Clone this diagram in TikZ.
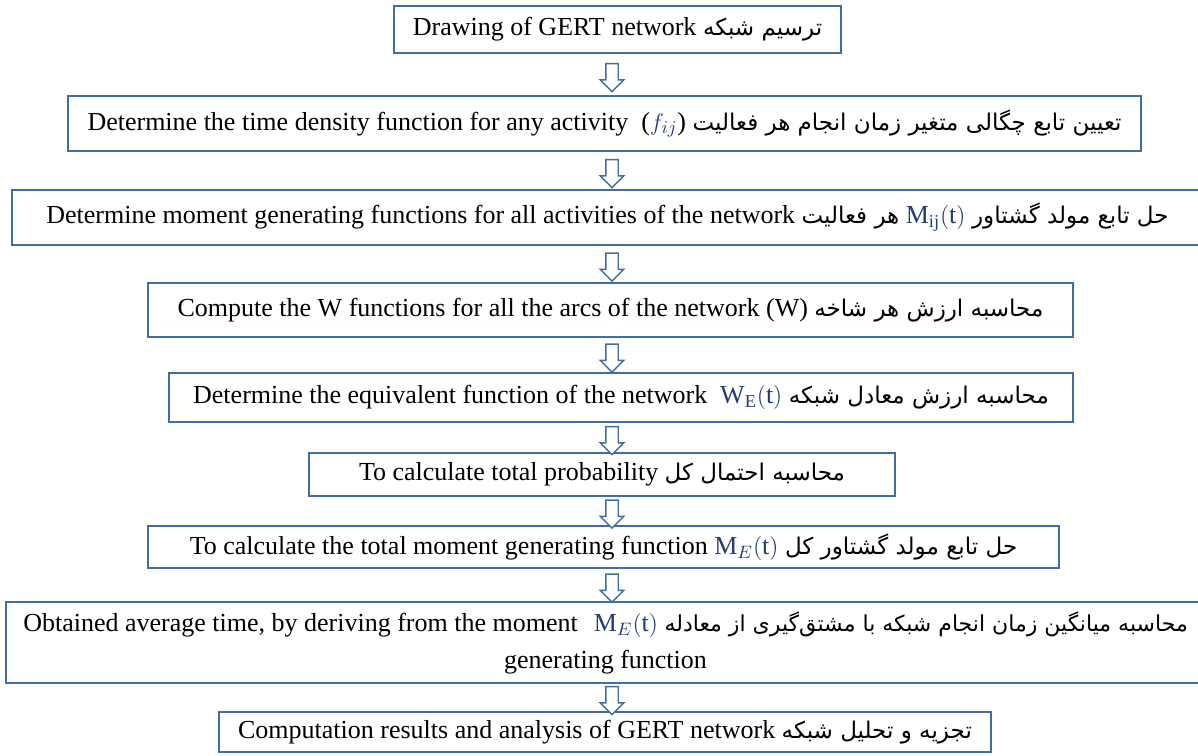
\documentclass[tikz,border=0pt]{standalone}
\usepackage{fontspec}
\setmainfont{Liberation Serif}
\newfontfamily\fa[Script=Arabic]{DejaVu Sans}
\TeXXeTstate=1
\usetikzlibrary{shapes.arrows}
\definecolor{boxblue}{RGB}{65,110,160}
\definecolor{mathblue}{RGB}{35,60,115}
\newcommand\pr[1]{{\fa\fontsize{11.5}{14}\selectfont\beginR #1\endR}}
\newcommand\prs[1]{{\fa\fontsize{11}{14}\selectfont\beginR #1\endR}}
\newcommand\mth[1]{{\color{mathblue}#1}}
\begin{document}
\begin{tikzpicture}[x=0.5pt,y=-0.5pt,
	procbox/.style={draw=boxblue,line width=0.7pt,fill=white,inner sep=0pt,
		font=\fontsize{13}{18.5}\selectfont},
	hollowarrow/.style={single arrow,draw=boxblue,fill=white,line width=0.7pt,
		rotate=-90,inner sep=2.75pt,minimum height=14pt,
		single arrow head extend=2.75pt,single arrow head indent=0pt}]
	\clip (0,0) rectangle (1198,755);
	\coordinate (ax) at (612,0);
	\node[procbox,minimum width=223.5pt,minimum height=23.5pt] (gert) at (617.5,29.5)
		{Drawing of GERT network \pr{ترسیم شبکه}};
	\node[procbox,minimum width=536.5pt,minimum height=27.5pt] (density) at (604.5,123.5)
		{Determine the time density function for any activity~~(\mth{$f_{ij}$}) \pr{تعیین تابع چگالی متغیر زمان انجام هر فعالیت}};
	\node[procbox,minimum width=595.5pt,minimum height=27.5pt] (mgf) at (607.5,217.5)
		{Determine moment generating functions for all activities of the network \pr{هر فعالیت} \mth{$\mathrm{M}_{\mathrm{ij}}(\mathrm{t})$} \pr{حل تابع مولد گشتاور}};
	\node[procbox,minimum width=462.5pt,minimum height=27pt] (wfunc) at (610.5,310)
		{Compute the W functions for all the arcs of the network (W) \pr{محاسبه ارزش هر شاخه}};
	\node[procbox,minimum width=452pt,minimum height=24.5pt] (equiv) at (621,397.5)
		{Determine the equivalent function of the network~~\mth{$\mathrm{W}_{\mathrm{E}}(\mathrm{t})$} \pr{محاسبه ارزش معادل شبکه}};
	\node[procbox,minimum width=293pt,minimum height=21.5pt] (prob) at (602,474.5)
		{To calculate total probability \pr{محاسبه احتمال کل}};
	\node[procbox,minimum width=455.5pt,minimum height=21pt] (totmgf) at (603.5,547)
		{To calculate the total moment generating function \mth{$\mathrm{M}_{E}(\mathrm{t})$} \pr{حل تابع مولد گشتاور کل}};
	\node[procbox,minimum width=599.5pt,minimum height=40.5pt,align=center] (avg) at (605.5,642.5)
		{Obtained average time, by deriving from the moment\hspace{8pt}\mth{$\mathrm{M}_{E}(\mathrm{t})$} \prs{محاسبه میانگین زمان انجام شبکه با مشتق‌گیری از معادله}\\
		generating function};
	\node[procbox,minimum width=386pt,minimum height=20pt] (result) at (605,732)
		{Computation results and analysis of GERT network \pr{تجزیه و تحلیل شبکه}};
	% arrows between the steps
	\path (gert.south -| ax) -- (density.north -| ax) node[midway,hollowarrow]{};
	\path (density.south -| ax) -- (mgf.north -| ax) node[midway,hollowarrow]{};
	\path (mgf.south -| ax) -- (wfunc.north -| ax) node[midway,hollowarrow]{};
	\path (wfunc.south -| ax) -- (equiv.north -| ax) node[midway,hollowarrow]{};
	\path (equiv.south -| ax) -- (prob.north -| ax) node[midway,hollowarrow]{};
	\path (prob.south -| ax) -- (totmgf.north -| ax) node[midway,hollowarrow]{};
	\path (totmgf.south -| ax) -- (avg.north -| ax) node[midway,hollowarrow]{};
	\path (avg.south -| ax) -- (result.north -| ax) node[midway,hollowarrow]{};
\end{tikzpicture}
\end{document}
